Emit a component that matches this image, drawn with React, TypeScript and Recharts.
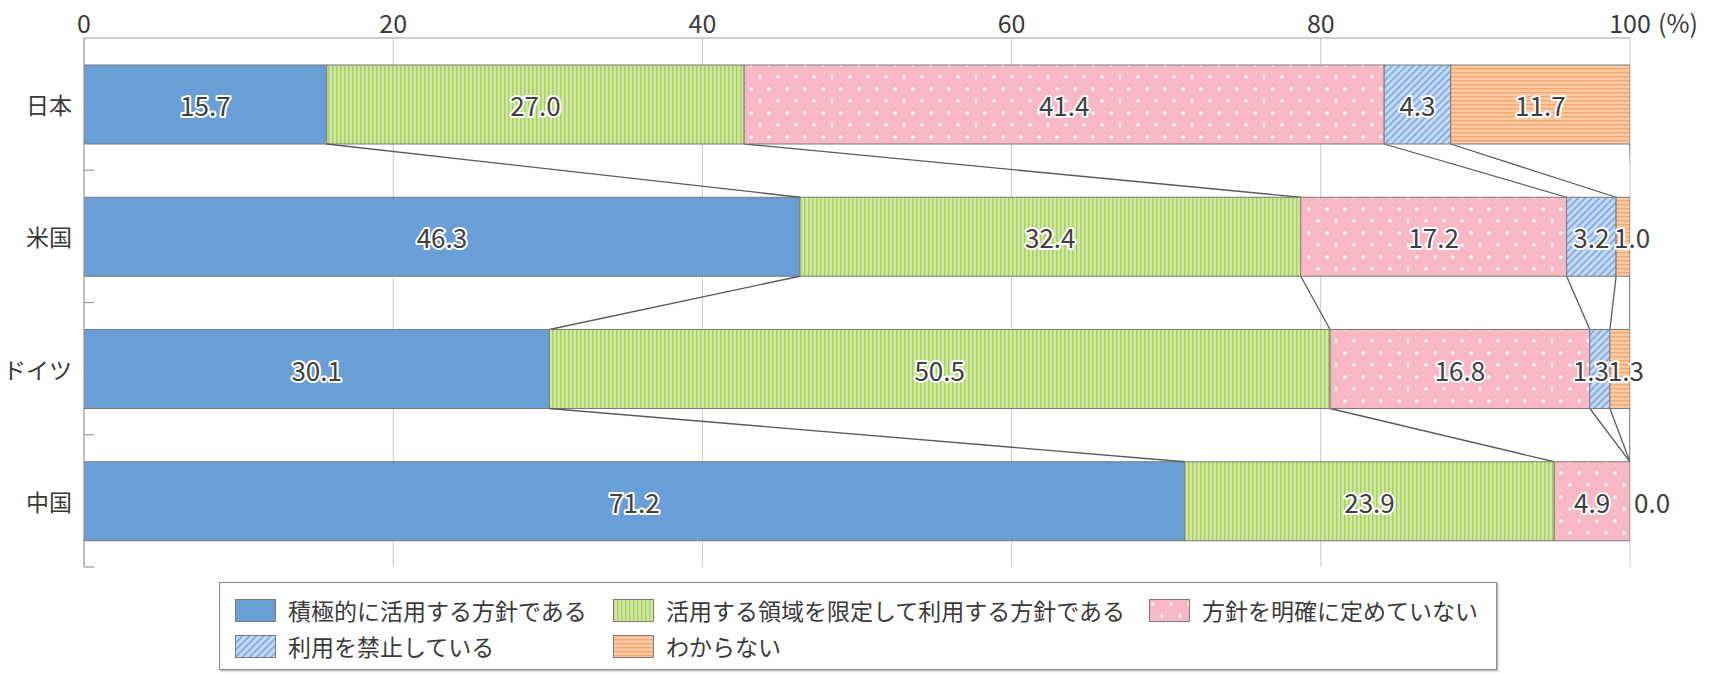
import React from 'react';
import { BarChart, Bar, XAxis, YAxis, CartesianGrid, LabelList, Legend } from 'recharts';

const categories = ['日本', '米国', 'ドイツ', '中国'];
const activeUse = [15.7, 46.3, 30.1, 71.2];
const limitedUse = [27.0, 32.4, 50.5, 23.9];
const noPolicy = [41.4, 17.2, 16.8, 4.9];
const prohibited = [4.3, 3.2, 1.3, 0.0];
const unknownAns = [11.7, 1.0, 1.3, 0.0];
const xTicks = [0, 20, 40, 60, 80, 100];

const seriesKeys = ['activeUse', 'limitedUse', 'noPolicy', 'prohibited', 'unknownAns'];
const seriesNames = [
  '積極的に活用する方針である',
  '活用する領域を限定して利用する方針である',
  '方針を明確に定めていない',
  '利用を禁止している',
  'わからない',
];
const seriesValues = [activeUse, limitedUse, noPolicy, prohibited, unknownAns];

const data = categories.map((c, i) => {
  const row: any = { country: c };
  seriesKeys.forEach((k, s) => {
    row[k] = seriesValues[s][i];
  });
  return row;
});

// cumulative right edge of each series per category
const cum = seriesValues.map((_, s) =>
  categories.map((__, i) => seriesValues.slice(0, s + 1).reduce((a, arr) => a + arr[i], 0))
);

const FONT = '"Noto Sans CJK JP", "Noto Sans", sans-serif';
const TEXT = '#3a3a3a';
const EDGE = '#7a7a7a';
const CONNECT = '#5a5a5a';

const fills = (p: string) => [
  '#699fd6',
  `url(#${p}green)`,
  `url(#${p}pink)`,
  `url(#${p}hatch)`,
  `url(#${p}orange)`,
];

const PatternDefs = ({ p }: { p: string }) => (
  <defs>
    <pattern id={`${p}green`} width="4" height="10" patternUnits="userSpaceOnUse">
      <rect width="4" height="10" fill="#cfe7a1" />
      <rect x="0" width="1.4" height="10" fill="#a6cf5f" />
    </pattern>
    <pattern id={`${p}pink`} width="18" height="24" patternUnits="userSpaceOnUse">
      <rect width="18" height="24" fill="#f8b8c4" />
      <circle cx="4" cy="5" r="1.7" fill="#ffffff" />
      <circle cx="13" cy="17" r="1.7" fill="#ffffff" />
    </pattern>
    <pattern id={`${p}hatch`} width="5" height="5" patternUnits="userSpaceOnUse" patternTransform="rotate(45)">
      <rect width="5" height="5" fill="#c6dbf6" />
      <rect width="1.8" height="5" fill="#7ea8e4" />
    </pattern>
    <pattern id={`${p}orange`} width="10" height="4" patternUnits="userSpaceOnUse">
      <rect width="10" height="4" fill="#fbcaa4" />
      <rect width="10" height="1.3" fill="#f4a66c" />
    </pattern>
  </defs>
);

// geometry of first series rows, filled during render (first series renders first)
const rowGeom: Record<number, { x: number; y: number; width: number; height: number; value: number }> = {};

const rowIndex = (props: any) => {
  if (typeof props.index === 'number') return props.index;
  return categories.indexOf(props?.payload?.country);
};

const makeShape = (s: number) => (props: any) => {
  const { x, y, width, height } = props;
  const i = rowIndex(props);
  if (s === 0) rowGeom[i] = { x, y, width, height, value: activeUse[i] };
  const lines: any[] = [];
  if (s >= 1 && i >= 0 && i < categories.length - 1) {
    const next = rowGeom[i + 1];
    if (next && next.value > 0 && next.width > 0) {
      const ppu = next.width / next.value;
      const px = (v: number) => next.x + v * ppu;
      const list = s === 1 ? [0, 1] : [s];
      list.forEach((k) => {
        const fromX = k === s ? x + width : x;
        lines.push(
          <line
            key={`c${k}`}
            x1={fromX}
            y1={y + height}
            x2={px(cum[k][i + 1])}
            y2={next.y}
            stroke={CONNECT}
            strokeWidth={1.3}
          />
        );
      });
    }
  }
  return (
    <g>
      {width > 0.01 && (
        <rect x={x} y={y} width={width} height={height} fill={fills('c-')[s]} stroke={EDGE} strokeWidth={1} />
      )}
      {lines}
    </g>
  );
};

const makeLabel = (s: number) => (props: any) => {
  const { x, y, width, height, value } = props;
  const i = typeof props.index === 'number' ? props.index : -1;
  let v: number;
  if (i >= 0) v = seriesValues[s][i];
  else if (Array.isArray(value)) v = value[1] - value[0];
  else v = Number(value);
  const text = v.toFixed(1);
  let tx = x + width / 2;
  let anchor: any = 'middle';
  if (width <= 0.5) {
    tx = x + 4;
    anchor = 'start';
  } else if (width < 30) {
    if (s === 3) {
      tx = x + width - 1;
      anchor = 'end';
    } else {
      tx = x - 2;
      anchor = 'start';
    }
  }
  return (
    <text
      x={tx}
      y={y + height / 2}
      textAnchor={anchor}
      dominantBaseline="central"
      fontSize={26}
      fontFamily={FONT}
      fill="#404040"
      stroke="#ffffff"
      strokeWidth={4}
      strokeLinejoin="round"
      style={{ paintOrder: 'stroke' }}
    >
      {text}
    </text>
  );
};

const XTick = (props: any) => {
  const { x, y, payload } = props;
  const v = payload.value;
  const common = { fontSize: 25, fontFamily: FONT, fill: TEXT };
  if (v === 100) {
    return (
      <g>
        <text x={x} y={y} textAnchor="middle" {...common}>100</text>
        <text x={x + 28} y={y} textAnchor="start" {...common}>(%)</text>
      </g>
    );
  }
  return (
    <text x={x} y={y} textAnchor="middle" {...common}>
      {v}
    </text>
  );
};

const YTick = (props: any) => {
  const { x, y, payload } = props;
  const off = payload && typeof payload.offset === 'number' ? payload.offset : 0;
  return (
    <g>
      <text x={x} y={y} textAnchor="end" dominantBaseline="central" fontSize={23} fontFamily={FONT} fill={TEXT}>
        {payload.value}
      </text>
      {off > 0 && <line x1={x + 12} x2={x + 22} y1={y + off} y2={y + off} stroke="#9a9a9a" strokeWidth={1.2} />}
    </g>
  );
};

const legendCols = [15, 393, 929];

const LegendBox = () => (
  <div
    style={{
      position: 'relative',
      width: 1278,
      height: 88,
      boxSizing: 'border-box',
      border: '1px solid #8c8c8c',
      boxShadow: '1px 1px 2px rgba(0,0,0,0.35)',
      background: '#fff',
    }}
  >
    <svg width={0} height={0} style={{ position: 'absolute' }}>
      <PatternDefs p="lg-" />
    </svg>
    {seriesNames.map((name, k) => {
      const row = k < 3 ? 0 : 1;
      const col = k < 3 ? k : k - 3;
      return (
        <div
          key={k}
          style={{
            position: 'absolute',
            left: legendCols[col],
            top: row === 0 ? 14 : 50,
            height: 26,
            display: 'flex',
            alignItems: 'center',
            whiteSpace: 'nowrap',
          }}
        >
          <svg width={41} height={23} style={{ display: 'block' }}>
            <rect x={0.5} y={0.5} width={40} height={22} fill={fills('lg-')[k]} stroke={EDGE} strokeWidth={1} />
          </svg>
          <span style={{ marginLeft: 12, fontSize: 23, color: TEXT, fontFamily: FONT, lineHeight: '26px' }}>{name}</span>
        </div>
      );
    })}
  </div>
);

export default function App() {
  return (
    <div style={{ position: 'absolute', left: 0, top: 0, width: 1720, height: 674, background: '#fff', fontFamily: FONT }}>
      <BarChart
        width={1720}
        height={674}
        data={data}
        layout="vertical"
        margin={{ top: 0, right: 90, left: 0, bottom: 107 }}
        barSize={79}
      >
        <PatternDefs p="c-" />
        <CartesianGrid horizontal={false} vertical stroke="#c9c9c9" />
        <XAxis
          type="number"
          orientation="top"
          domain={[0, 100]}
          allowDataOverflow
          ticks={xTicks}
          height={38}
          axisLine={{ stroke: '#999' }}
          tickLine={false}
          tickSize={0}
          tickMargin={5}
          tick={<XTick />}
          interval={0}
        />
        <YAxis
          type="category"
          dataKey="country"
          width={84}
          axisLine={{ stroke: '#999' }}
          tickLine={false}
          tickSize={0}
          tickMargin={12}
          tick={<YTick />}
          interval={0}
        />
        {seriesKeys.map((k, s) => (
          <Bar
            key={k}
            dataKey={k}
            name={seriesNames[s]}
            stackId="a"
            fill={fills('c-')[s]}
            shape={makeShape(s)}
            isAnimationActive={false}
          >
            <LabelList dataKey={k} content={makeLabel(s)} />
          </Bar>
        ))}
        <Legend
          layout="horizontal"
          verticalAlign="middle"
          align="center"
          content={<LegendBox />}
          wrapperStyle={{ position: 'absolute', left: 219, top: 582, width: 1278, height: 88 }}
        />
      </BarChart>
    </div>
  );
}
